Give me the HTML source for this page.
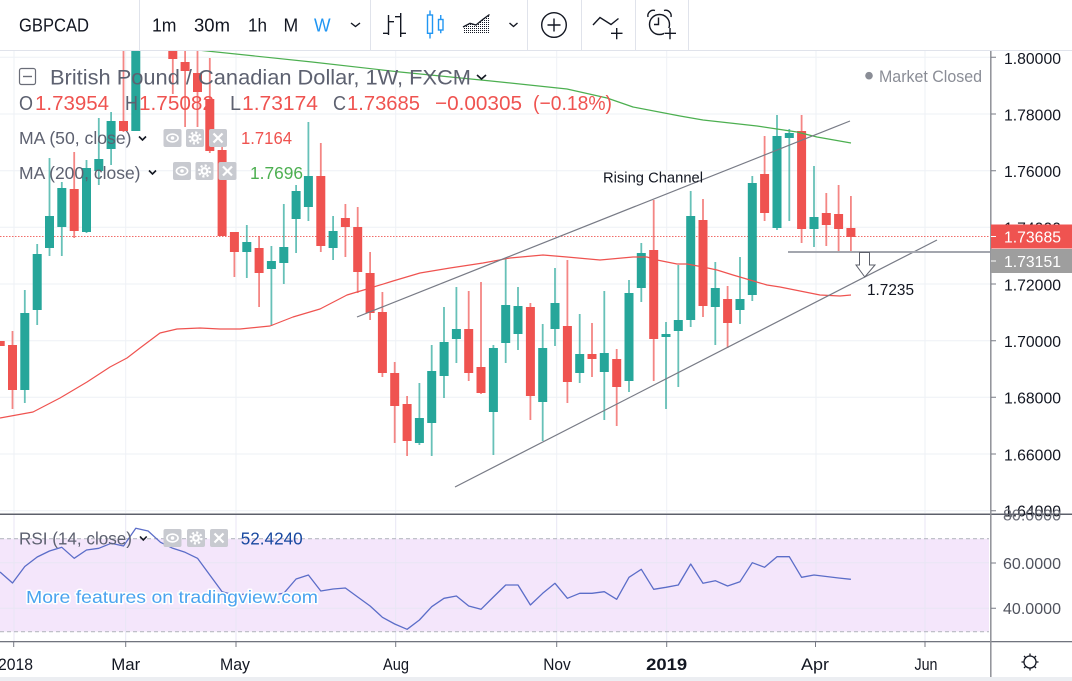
<!DOCTYPE html>
<html><head><meta charset="utf-8"><style>
html,body{margin:0;padding:0;background:#fff;width:1072px;height:681px;overflow:hidden}
svg{display:block}
text{font-family:"Liberation Sans",sans-serif}
</style></head><body>
<svg width="1072" height="681" viewBox="0 0 1072 681" xmlns="http://www.w3.org/2000/svg">
<defs>
<clipPath id="mc"><rect x="0" y="51" width="990" height="462.5"/></clipPath>
<clipPath id="rc"><rect x="0" y="515" width="990" height="126"/></clipPath>
<clipPath id="topax"><rect x="991" y="51" width="81" height="463"/></clipPath>
<pattern id="dots" width="2" height="2" patternUnits="userSpaceOnUse"><rect width="1" height="1" fill="#131722"/></pattern>
<g id="ieye"><rect width="18" height="18" rx="2" fill="#c8cad0"/><ellipse cx="9" cy="9" rx="5.6" ry="3.9" fill="none" stroke="#fff" stroke-width="1.6"/><circle cx="9" cy="9" r="1.8" fill="#fff"/></g>
<g id="igear"><rect width="18" height="18" rx="2" fill="#c8cad0"/><circle cx="9" cy="9" r="5.4" fill="none" stroke="#fff" stroke-width="2.4" stroke-dasharray="2.1 2.14"/><circle cx="9" cy="9" r="3.9" fill="#fff"/><circle cx="9" cy="9" r="1.7" fill="#c8cad0"/></g>
<g id="ix"><rect width="18" height="18" rx="2" fill="#c8cad0"/><path d="M4.5 4.5L13.5 13.5M13.5 4.5L4.5 13.5" stroke="#fff" stroke-width="2.2"/></g>
</defs>

<rect width="1072" height="681" fill="#fff"/>

<!-- TOOLBAR -->
<g fill="#131722">
<text x="19" y="31.7" font-size="18" textLength="70" lengthAdjust="spacingAndGlyphs">GBPCAD</text>
<text x="152" y="31.7" font-size="18" textLength="24.5" lengthAdjust="spacingAndGlyphs">1m</text>
<text x="194" y="31.7" font-size="18" textLength="36" lengthAdjust="spacingAndGlyphs">30m</text>
<text x="248" y="31.7" font-size="18" textLength="19" lengthAdjust="spacingAndGlyphs">1h</text>
<text x="283.5" y="31.7" font-size="18" textLength="14.7" lengthAdjust="spacingAndGlyphs">M</text>
<text x="314" y="31.7" font-size="18" textLength="16.6" lengthAdjust="spacingAndGlyphs" fill="#2196f3">W</text>
</g>
<g stroke="#e0e3eb" stroke-width="1">
<path d="M139.5 0V50M370.5 0V50M527.5 0V50M581.5 0V50M635.5 0V50M688.5 0V50"/>
<path d="M0 50.5H1072"/>
</g>
<g fill="none" stroke="#131722" stroke-width="1.4">
<polyline points="351,23 355.5,26.5 360,23"/>
<path d="M388.5 15V35M383 33.3H388.5M388.5 21.7H394M400.7 13V37M395 16.7H400.7M400.7 33.3H406"/>
<polyline points="509.5,23 513.5,26.5 517.5,23"/>
<circle cx="554" cy="25" r="12.3"/>
<path d="M547.5 25H560.5M554 18.5V31.5"/>
<polyline points="593,25 600,17.5 611,24.5 618.5,18.5"/>
<path d="M611 33.3H622.5M616.7 28V39.3"/>
<circle cx="659.5" cy="24.5" r="10"/>
<path d="M648 17A5.5 5.5 0 0 1 655 10.5M664 10.5A5.5 5.5 0 0 1 671 17"/>
<path d="M658.5 17.5V24.5H654"/>
</g>
<rect x="664" y="28" width="12" height="12" fill="#fff"/>
<path d="M664.5 33.3H676M670 28V39.3" stroke="#131722" stroke-width="1.4"/>
<g stroke="#2196f3" stroke-width="1.4" fill="none">
<rect x="427.5" y="15" width="5" height="18.3"/>
<path d="M430 10.5V15M430 33.3V38.5"/>
<rect x="438.5" y="19.5" width="4.5" height="10.5"/>
<path d="M440.75 15V19.5M440.75 30V33.3"/>
</g>
<polygon points="463,33.3 463,27 470,23.3 476,25 483,19.3 489,15 489,33.3" fill="url(#dots)"/>
<polyline points="463,27 470,23.3 476,25 483,19.3 489.5,14.5" fill="none" stroke="#131722" stroke-width="1.3"/>

<!-- MAIN PANE GRID -->
<g stroke="#eef1f6" stroke-width="1">
<path d="M0 57.3H990M0 114H990M0 170.7H990M0 227.3H990M0 284H990M0 340.7H990M0 397.3H990M0 454H990M0 510.7H990"/>
<path d="M14 51V513M125.7 51V513M236 51V513M395.7 51V513M556.7 51V513M666.7 51V513M816 51V513M925 51V513"/>
</g>

<!-- RSI PANE -->
<rect x="0" y="538.7" width="989" height="93" fill="#f4e6fb"/>
<g stroke="#e8e6f4" stroke-width="1">
<path d="M0 562.7H989M0 608.3H989"/>
<path d="M14 515V641M125.7 515V641M236 515V641M395.7 515V641M556.7 515V641M666.7 515V641M816 515V641M925 515V641"/>
</g>
<path d="M0 538.7H989M0 631.7H989" stroke="#b8bac2" stroke-width="1.2" stroke-dasharray="4 3"/>

<g clip-path="url(#mc)">
<!-- price line -->
<path d="M0 236.5H990" stroke="#ef5350" stroke-width="1" stroke-dasharray="1.5 1.5" opacity="0.85"/>

<!-- wicks -->
<path fill="none" stroke="#ef5350" stroke-width="1.8" opacity="0.7" d="M12.5 331V409M74.2 152V238M123.5 40V132M172.8 40V94M185.1 40V127M197.5 40V127M209.8 58V153M222.1 147V236M234.4 232V277M259.1 236V307M320.8 143V252M345.4 204V257M357.7 207V293M370.1 252V320M382.4 292V377M394.7 362V443M407.1 396V456M468.7 291V381M481 282V394M530.4 303V420M567.4 260V403M592 323V377M616.7 349V426M653.7 200V381M703 199V317M727.6 286V348M764.6 136V221M801.6 115V243M826.3 193V246M838.6 185V252M850.9 196V252"/>
<path fill="none" stroke="#26a69a" stroke-width="1.8" opacity="0.7" d="M24.8 290V403M37.2 244V325M49.5 158V256M61.8 182V256M86.5 160V233M98.8 118V185M111.1 112V165M135.8 40V131M246.8 225V278M271.4 246V326M283.8 204V284M296.1 185V253M308.4 122V221M333.1 216V260M419.4 383V445M431.7 345V456M444 307V398M456.4 287V363M493.4 345V455M505.7 259V363M518 287V350M542.7 324V441M555 268V346M579.7 314V383M604.3 291V420M629 280V392M641.3 243V302M666 322V409M678.3 265V387M690.7 191V327M715.3 262V345M740 257V324M752.3 176V301M777 115V230M789.3 129V221M814 166V247"/>

<!-- red bodies -->
<g fill="#ef5350">
<rect x="-4.3" y="341" width="9" height="5"/>
<rect x="8" y="345" width="9" height="45"/>
<rect x="69.7" y="189" width="9" height="42"/>
<rect x="119" y="121" width="9" height="10"/>
<rect x="168.3" y="40" width="9" height="19"/>
<rect x="180.6" y="62" width="9" height="9"/>
<rect x="193" y="73" width="9" height="19"/>
<rect x="205.3" y="99" width="9" height="52"/>
<rect x="217.6" y="150" width="9" height="86"/>
<rect x="229.9" y="232" width="9" height="20"/>
<rect x="254.6" y="248" width="9" height="25"/>
<rect x="316.3" y="176" width="9" height="70"/>
<rect x="340.9" y="218" width="9" height="9"/>
<rect x="353.2" y="227" width="9" height="45"/>
<rect x="365.6" y="273" width="9" height="40"/>
<rect x="377.9" y="312" width="9" height="61"/>
<rect x="390.2" y="373" width="9" height="33"/>
<rect x="402.6" y="404" width="9" height="37"/>
<rect x="464.2" y="329" width="9" height="44"/>
<rect x="476.5" y="367" width="9" height="26"/>
<rect x="525.9" y="307" width="9" height="89"/>
<rect x="562.9" y="326" width="9" height="56"/>
<rect x="587.5" y="354" width="9" height="5"/>
<rect x="612.2" y="359" width="9" height="28"/>
<rect x="649.2" y="250" width="9" height="89"/>
<rect x="698.5" y="220" width="9" height="86"/>
<rect x="723.1" y="299" width="9" height="24"/>
<rect x="760.1" y="174" width="9" height="39"/>
<rect x="797.1" y="131" width="9" height="98"/>
<rect x="821.8" y="213" width="9" height="12"/>
<rect x="834.1" y="214" width="9" height="15"/>
<rect x="846.4" y="228" width="9" height="9"/>
</g>
<!-- green bodies -->
<g fill="#26a69a">
<rect x="20.3" y="313" width="9" height="77"/>
<rect x="32.7" y="254" width="9" height="56"/>
<rect x="45" y="216" width="9" height="32"/>
<rect x="57.3" y="188" width="9" height="39"/>
<rect x="82" y="168" width="9" height="64"/>
<rect x="94.3" y="159" width="9" height="12"/>
<rect x="106.6" y="121" width="9" height="28"/>
<rect x="131.3" y="40" width="9" height="91"/>
<rect x="242.3" y="242" width="9" height="10"/>
<rect x="266.9" y="261" width="9" height="8"/>
<rect x="279.3" y="247" width="9" height="16"/>
<rect x="291.6" y="191" width="9" height="28"/>
<rect x="303.9" y="176" width="9" height="31"/>
<rect x="328.6" y="231" width="9" height="17"/>
<rect x="414.9" y="418" width="9" height="25"/>
<rect x="427.2" y="371" width="9" height="52"/>
<rect x="439.6" y="342" width="9" height="34"/>
<rect x="451.9" y="329" width="9" height="10"/>
<rect x="488.9" y="348" width="9" height="64"/>
<rect x="501.2" y="305" width="9" height="38"/>
<rect x="513.5" y="306" width="9" height="28"/>
<rect x="538.2" y="348" width="9" height="54"/>
<rect x="550.5" y="303" width="9" height="26"/>
<rect x="575.2" y="354" width="9" height="19"/>
<rect x="599.8" y="353" width="9" height="19"/>
<rect x="624.5" y="293" width="9" height="88"/>
<rect x="636.8" y="253" width="9" height="35"/>
<rect x="661.5" y="334" width="9" height="3"/>
<rect x="673.8" y="320" width="9" height="11"/>
<rect x="686.2" y="216" width="9" height="104"/>
<rect x="710.8" y="288" width="9" height="19"/>
<rect x="735.5" y="299" width="9" height="11"/>
<rect x="747.8" y="183" width="9" height="112"/>
<rect x="772.5" y="136" width="9" height="92"/>
<rect x="784.8" y="133" width="9" height="5"/>
<rect x="809.5" y="217" width="9" height="12"/>
</g>

<!-- moving averages -->
<path fill="none" stroke="#4caf50" stroke-width="1.2" stroke-linejoin="round" d="M150 45L207 51L312 62L400 72L491 81L567 89L607 98L633 107L680 116L703 120L757 126L777 129L797 132L817 137L851 143"/>
<path fill="none" stroke="#ef5350" stroke-width="1.2" stroke-linejoin="round" d="M0 418L33 412L60 398L87 382L110 367L127 358L140 348L160 333L177 329L200 328L220 329L240 329L260 327L270 326L293 317L320 309L347 295L367 289L393 281L420 273L450 268L483 263L510 258L543 255L567 257L600 260L633 257L647 257L657 260L677 264L687 264L703 267L717 270L733 275L750 280L767 285L780 287L800 291L820 295L840 296L851 295"/>

<!-- channel -->
<path d="M357 317L850 121M455 487L937 240" stroke="#787b86" stroke-width="1.2" fill="none"/>
<path d="M788 252H990" stroke="#a3a6ae" stroke-width="2"/>
<polygon points="859.5,252.5 869.5,252.5 869.5,265 875,265 864.8,277 856,265 859.5,265" fill="#fff" stroke="#5d606b" stroke-width="1"/>
</g>

<text x="603" y="182.5" font-size="15" fill="#131722" textLength="100" lengthAdjust="spacingAndGlyphs">Rising Channel</text>
<text x="867" y="295" font-size="15.5" fill="#131722" textLength="47" lengthAdjust="spacingAndGlyphs">1.7235</text>

<!-- LEGEND -->
<rect x="19.5" y="68.5" width="16" height="16" rx="2" fill="none" stroke="#6a6d78" stroke-width="1.2"/>
<path d="M23 76.5H32" stroke="#6a6d78" stroke-width="1.4"/>
<text x="50" y="84.5" font-size="21" fill="#5d6170" textLength="421" lengthAdjust="spacingAndGlyphs">British Pound / Canadian Dollar, 1W, FXCM</text>
<polyline points="477,75 481.5,79 486,75" fill="none" stroke="#131722" stroke-width="1.6"/>
<g font-size="20.5" fill="#ef5350">
<text x="19" y="110" fill="#5d6170" textLength="14" lengthAdjust="spacingAndGlyphs">O</text>
<text x="35" y="110" textLength="74" lengthAdjust="spacingAndGlyphs">1.73954</text>
<text x="125" y="110" fill="#5d6170" textLength="13" lengthAdjust="spacingAndGlyphs">H</text>
<text x="139" y="110" textLength="75" lengthAdjust="spacingAndGlyphs">1.75082</text>
<text x="230" y="110" fill="#5d6170" textLength="11" lengthAdjust="spacingAndGlyphs">L</text>
<text x="242" y="110" textLength="76" lengthAdjust="spacingAndGlyphs">1.73174</text>
<text x="333" y="110" fill="#5d6170" textLength="13" lengthAdjust="spacingAndGlyphs">C</text>
<text x="347" y="110" textLength="73" lengthAdjust="spacingAndGlyphs">1.73685</text>
<text x="435" y="110" textLength="87" lengthAdjust="spacingAndGlyphs">−0.00305</text>
<text x="533" y="110" textLength="79" lengthAdjust="spacingAndGlyphs">(−0.18%)</text>
</g>
<text x="19" y="144" font-size="17.5" fill="#5d6170" textLength="112.5" lengthAdjust="spacingAndGlyphs">MA (50, close)</text>
<polyline points="139,136.5 142.5,140 146,136.5" fill="none" stroke="#131722" stroke-width="1.6"/>
<use href="#ieye" x="163.5" y="129"/><use href="#igear" x="186" y="129"/><use href="#ix" x="209" y="129"/>
<text x="241" y="144" font-size="17.5" fill="#ef5350" textLength="51" lengthAdjust="spacingAndGlyphs">1.7164</text>
<text x="19" y="179" font-size="17.5" fill="#5d6170" textLength="121.5" lengthAdjust="spacingAndGlyphs">MA (200, close)</text>
<polyline points="149,170.5 152.5,174 156,170.5" fill="none" stroke="#131722" stroke-width="1.6"/>
<use href="#ieye" x="173" y="162"/><use href="#igear" x="195.5" y="162"/><use href="#ix" x="218.5" y="162"/>
<text x="250" y="179" font-size="17.5" fill="#4caf50" textLength="53" lengthAdjust="spacingAndGlyphs">1.7696</text>

<circle cx="869" cy="75.7" r="3.8" fill="#8a8d96"/>
<text x="879" y="82" font-size="17" fill="#8a8d96" textLength="103" lengthAdjust="spacingAndGlyphs">Market Closed</text>

<!-- RSI line -->
<g clip-path="url(#rc)">
<polyline fill="none" stroke="#5b6dc8" stroke-width="1.3" stroke-linejoin="round" points="0,572 12.5,583 24.8,566.5 37.2,557 49.5,551 61.8,547.3 74.2,558.3 86.5,550 98.8,548.3 111.1,543.3 123.5,546 135.8,528.3 148.1,531 160.5,542.3 172.8,548.3 185.1,552.3 197.5,558.3 209.8,575 222.1,591.7 234.4,595 246.8,594 259.1,597 271.4,595 283.8,593.3 296.1,579 308.4,575 320.8,591 333.1,589 345.4,588 357.7,597 370.1,606 382.4,617.3 394.7,624 407.1,629.3 419.4,620 431.7,606.7 444,598.3 456.4,596 468.7,606 481,609.3 493.4,597 505.7,585 518,585 530.4,605 542.7,593.3 555,583.3 567.4,598.3 579.7,593.3 592,593.3 604.3,591.7 616.7,599.3 629,577.3 641.3,569.3 653.7,589.3 666,587.3 678.3,585 690.7,564 703,583.3 715.3,580.7 727.6,586 740,581.7 752.3,562.7 764.6,567.3 777,556.7 789.3,556.7 801.6,577.3 814,575 826.3,576.5 838.6,578 850.9,579.3"/>
</g>
<text x="19" y="544.5" font-size="17.5" fill="#5d6170" textLength="113" lengthAdjust="spacingAndGlyphs">RSI (14, close)</text>
<polyline points="140,536.5 143.3,540 146.7,536.5" fill="none" stroke="#131722" stroke-width="1.6"/>
<use href="#ieye" x="163.5" y="529"/><use href="#igear" x="187" y="529"/><use href="#ix" x="210" y="529"/>
<text x="240.7" y="544.5" font-size="17.5" fill="#1848a0" textLength="62" lengthAdjust="spacingAndGlyphs">52.4240</text>
<text x="26" y="603" font-size="17.5" fill="#4aa3ef" stroke="#fff" stroke-width="3" paint-order="stroke" stroke-linejoin="round" textLength="292" lengthAdjust="spacingAndGlyphs">More features on tradingview.com</text>

<!-- separators -->
<path d="M0 514.3H1072" stroke="#5d606b" stroke-width="1.5"/>
<path d="M0 641.7H1072" stroke="#5d606b" stroke-width="1.2"/>
<path d="M990.8 51V677" stroke="#8f9197" stroke-width="1.5"/>

<!-- right axis labels -->
<g font-size="16" fill="#131722">
<text x="1004" y="64" textLength="57" lengthAdjust="spacingAndGlyphs">1.80000</text>
<text x="1004" y="120.5" textLength="57" lengthAdjust="spacingAndGlyphs">1.78000</text>
<text x="1004" y="177" textLength="57" lengthAdjust="spacingAndGlyphs">1.76000</text>
<text x="1004" y="233.5" textLength="57" lengthAdjust="spacingAndGlyphs">1.74000</text>
<text x="1004" y="290.5" textLength="57" lengthAdjust="spacingAndGlyphs">1.72000</text>
<text x="1004" y="347" textLength="57" lengthAdjust="spacingAndGlyphs">1.70000</text>
<text x="1004" y="403.5" textLength="57" lengthAdjust="spacingAndGlyphs">1.68000</text>
<text x="1004" y="460.5" textLength="57" lengthAdjust="spacingAndGlyphs">1.66000</text>
<text x="1004" y="516.5" textLength="57" lengthAdjust="spacingAndGlyphs">1.64000</text>
<text x="1003" y="520.5" textLength="58" lengthAdjust="spacingAndGlyphs" fill="#6a6d78">80.0000</text>
<text x="1003" y="569" textLength="58" lengthAdjust="spacingAndGlyphs" fill="#50535e">60.0000</text>
<text x="1003" y="614" textLength="58" lengthAdjust="spacingAndGlyphs" fill="#50535e">40.0000</text>
</g>
<path d="M991 57.3H996M991 114H996M991 170.7H996M991 227.3H996M991 284H996M991 340.7H996M991 397.3H996M991 454H996M991 510.7H996M991 563H996M991 608.3H996" stroke="#787b86" stroke-width="1"/>

<rect x="991" y="224.5" width="81" height="24" fill="#ef5350"/>
<path d="M991 236.5H996" stroke="#fff" stroke-width="1"/>
<text x="1004" y="242.5" font-size="16" fill="#fff" textLength="57" lengthAdjust="spacingAndGlyphs">1.73685</text>
<rect x="991" y="249" width="81" height="24" fill="#9e9e9e"/>
<path d="M991 261H996" stroke="#fff" stroke-width="1"/>
<text x="1004" y="266.8" font-size="16" fill="#fff" textLength="57" lengthAdjust="spacingAndGlyphs">1.73151</text>

<!-- time axis -->
<path d="M13.7 642V647M125.7 642V647M236 642V647M395.7 642V647M556.7 642V647M666.7 642V647M815.5 642V647M925 642V647" stroke="#787b86" stroke-width="1"/>
<g font-size="17" fill="#131722" text-anchor="middle">
<text x="33" y="670" text-anchor="end" textLength="35" lengthAdjust="spacingAndGlyphs">2018</text>
<text x="125.7" y="670" textLength="29" lengthAdjust="spacingAndGlyphs">Mar</text>
<text x="235" y="670" textLength="30" lengthAdjust="spacingAndGlyphs">May</text>
<text x="396" y="670" textLength="26" lengthAdjust="spacingAndGlyphs">Aug</text>
<text x="557" y="670" textLength="27.5" lengthAdjust="spacingAndGlyphs">Nov</text>
<text x="666.7" y="670" font-weight="bold" textLength="41" lengthAdjust="spacingAndGlyphs">2019</text>
<text x="815" y="670" textLength="28" lengthAdjust="spacingAndGlyphs">Apr</text>
<text x="926" y="670" textLength="23" lengthAdjust="spacingAndGlyphs">Jun</text>
</g>
<g stroke="#131722" stroke-width="1.3" fill="none">
<circle cx="1030" cy="662" r="6"/>
<path d="M1036 662H1038.5M1024 662H1021.5M1030 656V653.5M1030 668V670.5M1034.2 657.8L1036 656M1025.8 657.8L1024 656M1025.8 666.2L1024 668M1034.2 666.2L1036 668"/>
</g>
<rect x="0" y="677" width="1072" height="4" fill="#eceef2"/>
</svg>
</body></html>
